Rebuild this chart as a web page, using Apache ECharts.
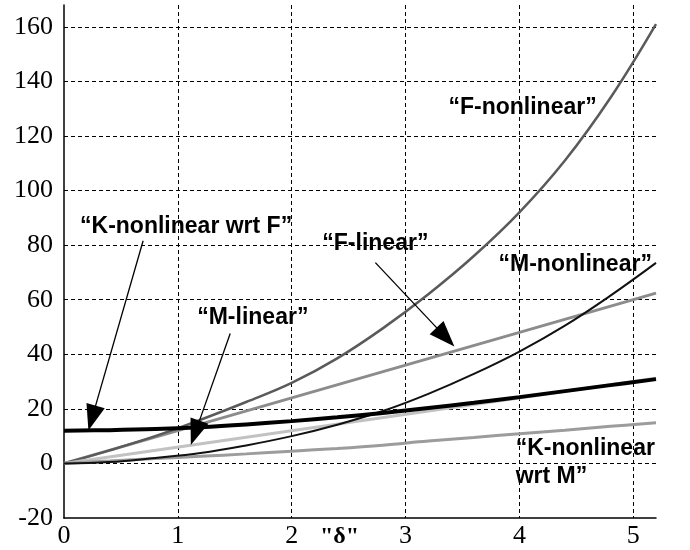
<!DOCTYPE html>
<html>
<head>
<meta charset="utf-8">
<script src="https://cdn.jsdelivr.net/npm/echarts@6/dist/echarts.min.js"></script>
<style>
html,body{margin:0;padding:0;background:#fff;}
#c{width:690px;height:550px;}
</style>
</head>
<body>
<div id="c"></div>
<script>
// ---- data ----
var xNonlin = [0, 0.4, 0.8, 1.2, 1.6, 2.0, 2.4, 2.8, 3.2, 3.6, 4.0, 4.4, 4.8, 5.2];
var fNonlinear = [0, 4.8, 10, 16, 22.5, 29.5, 38.5, 49.5, 62, 76, 92, 111, 134, 161];
var mNonlinear = [0, 0.5, 2, 3.8, 6.6, 10, 14.2, 19.2, 25.5, 32.8, 41, 50.5, 61.5, 73.5];
var kNonlinearF = [12, 12.2, 12.6, 13.3, 14.3, 15.5, 16.9, 18.5, 20.3, 22.2, 24.3, 26.5, 28.7, 30.9];
var kNonlinearM = [0, 0.9, 1.8, 2.6, 3.5, 4.5, 5.5, 6.7, 8.2, 9.5, 10.9, 12.2, 13.6, 14.9];
var xLin = [0, 5.2];
var fLinear = [0, 62.4];
var mLinear = [0, 31.2];
var yTicks = [-20, 0, 20, 40, 60, 80, 100, 120, 140, 160];
var xTicks = [0, 1, 2, 3, 4, 5];

// annotations: text, data-x (left), data-y (middle)
var labels = [
  {text: '\u201CK-nonlinear wrt F\u201D', x: 0.141, y: 86.7},
  {text: '\u201CF-linear\u201D', x: 2.269, y: 80.5},
  {text: '\u201CM-linear\u201D', x: 1.17, y: 53.6},
  {text: '\u201CF-nonlinear\u201D', x: 3.377, y: 130.5},
  {text: '\u201CM-nonlinear\u201D', x: 3.817, y: 72.8},
  {text: '\u201CK-nonlinear\nwrt M\u201D', x: 3.967, y: 0.2}
];
// arrows: [tailX, tailY, headX, headY] in data units
var arrows = [
  [0.695, 81.6, 0.246, 16.6],
  [1.46, 47.6, 1.152, 11.2],
  [2.735, 73.6, 3.351, 46.3]
];

function pairs(xs, ys) { return xs.map(function (x, i) { return [x, ys[i]]; }); }

var chart = echarts.init(document.getElementById('c'), null, {renderer: 'canvas'});
var serif = 'Liberation Serif, Times New Roman, serif';
var sans = 'Liberation Sans, Arial, Helvetica, sans-serif';

function lineSeries(name, data, color, width, smooth, z) {
  return {
    name: name, type: 'line', data: data, smooth: smooth, symbol: 'none',
    lineStyle: {color: color, width: width}, z: z, animation: false, silent: true
  };
}

var series = [
  lineSeries('F-linear', pairs(xLin, fLinear), '#8c8c8c', 3, false, 2),
  lineSeries('F-nonlinear', pairs(xNonlin, fNonlinear), '#5a5a5a', 2.5, 0.4, 3),
  lineSeries('M-linear', pairs(xLin, mLinear), '#c2c2c2', 3, false, 3),
  lineSeries('K-nonlinear wrt M', pairs(xNonlin, kNonlinearM), '#9c9c9c', 3, 0.4, 3),
  lineSeries('M-nonlinear', pairs(xNonlin, mNonlinear), '#111111', 2, 0.4, 4),
  lineSeries('K-nonlinear wrt F', pairs(xNonlin, kNonlinearF), '#000000', 4, 0.4, 5)
];
series.push({
  type: 'line', data: [], symbol: 'none', silent: true, animation: false, z: 6,
  markLine: {
    silent: true, animation: false,
    symbol: ['none', 'triangle'], symbolSize: [19, 26],
    label: {show: false},
    lineStyle: {color: '#000', width: 1.3, type: 'solid'},
    data: arrows.map(function (a) { return [{coord: [a[0], a[1]]}, {coord: [a[2], a[3]]}]; })
  }
});

chart.setOption({
  backgroundColor: '#fff',
  animation: false,
  grid: {left: 64, right: 34, top: 5, bottom: 32, containLabel: false},
  xAxis: {
    type: 'value', min: 0, max: 5.2, interval: 1,
    axisLine: {show: true, onZero: false, lineStyle: {color: '#000', width: 1.5}},
    axisTick: {show: false},
    axisLabel: {
      fontFamily: serif, fontSize: 26, color: '#000', margin: 5,
      showMaxLabel: false,
      formatter: function (v) { return xTicks.indexOf(v) >= 0 ? String(v) : ''; }
    },
    splitLine: {show: true, showMinLine: false, showMaxLine: false,
      lineStyle: {color: '#000', width: 1, type: [4, 3]}}
  },
  yAxis: {
    type: 'value', min: -20, max: 168, interval: 20,
    axisLine: {show: true, onZero: false, lineStyle: {color: '#000', width: 1.5}},
    axisTick: {show: false},
    axisLabel: {
      fontFamily: serif, fontSize: 26, color: '#000', margin: 11,
      showMaxLabel: false,
      formatter: function (v) { return yTicks.indexOf(v) >= 0 ? String(v) : ''; }
    },
    splitLine: {show: true, showMinLine: false, showMaxLine: false,
      lineStyle: {color: '#000', width: 1, type: [4, 3]}}
  },
  series: series
});

var graphics = labels.map(function (l) {
  var p = chart.convertToPixel({xAxisIndex: 0, yAxisIndex: 0}, [l.x, l.y]);
  return {
    type: 'text', x: p[0], y: p[1], z: 100, silent: true,
    style: {text: l.text, fill: '#000', font: 'bold 23px ' + sans,
      textAlign: 'left', textVerticalAlign: 'middle', lineHeight: 28}
  };
});
var dp = chart.convertToPixel({xAxisIndex: 0, yAxisIndex: 0}, [2.42, -20]);
graphics.push({
  type: 'text', x: dp[0], y: dp[1] + 19, z: 100, silent: true,
  style: {text: '"\u03B4"', fill: '#000', font: 'bold 24px ' + serif,
    textAlign: 'center', textVerticalAlign: 'middle'}
});
chart.setOption({graphic: graphics});
</script>
</body>
</html>
